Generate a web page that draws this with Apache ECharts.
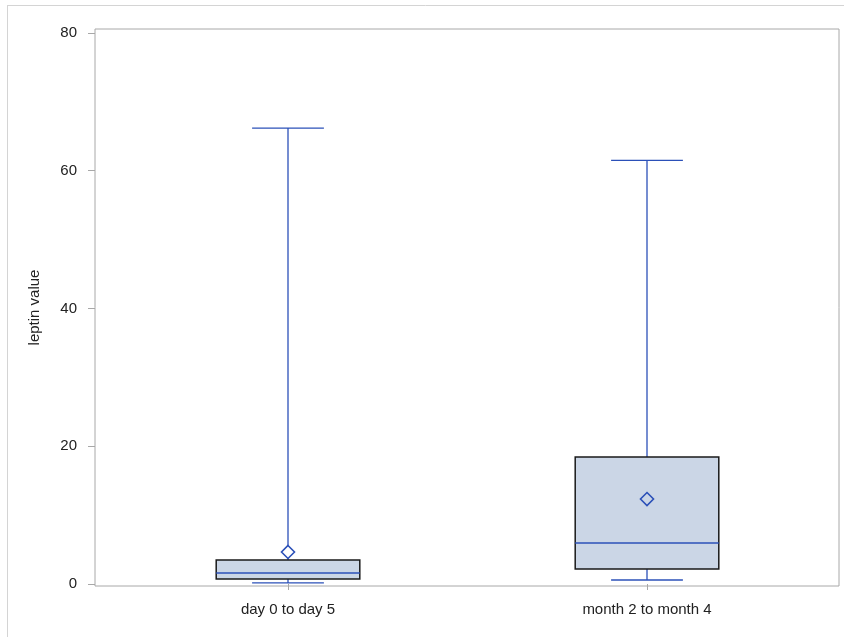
<!DOCTYPE html>
<html>
<head>
<meta charset="utf-8">
<title>leptin value</title>
<script src="https://cdn.jsdelivr.net/npm/echarts@6/dist/echarts.min.js"></script>
<style>
  html, body { margin: 0; padding: 0; background: #ffffff; }
  #chart { width: 844px; height: 637px; }
</style>
</head>
<body>
<div id="chart"></div>
<script>
// Period groups on the category axis
const categories = ['day 0 to day 5', 'month 2 to month 4'];

// Five-number summaries and means per period
const whiskerLow  = [0.15, 0.58];
const q1          = [0.73, 2.18];
const median      = [1.60, 5.95];
const q3          = [3.48, 18.44];
const whiskerHigh = [66.2, 61.5];
const mean        = [4.65, 12.34];

// Value-axis tick labels
const yTicks = [0, 20, 40, 60, 80];

const FONT = '"Liberation Sans", Arial, sans-serif';
const TEXT = '#222222';
const BLUE = '#2b50b8';
const FILL = '#cbd6e6';

const seriesData = categories.map((c, i) => [i, whiskerLow[i], q1[i], median[i], q3[i], whiskerHigh[i], mean[i]]);

function renderBox(params, api) {
  const idx = api.value(0);
  const band = api.size([1, 0])[0];
  const halfBox = band * 0.2;
  const halfCap = band * 0.1;
  const pLow = api.coord([idx, api.value(1)]);
  const pQ1 = api.coord([idx, api.value(2)]);
  const pMed = api.coord([idx, api.value(3)]);
  const pQ3 = api.coord([idx, api.value(4)]);
  const pHigh = api.coord([idx, api.value(5)]);
  const pMean = api.coord([idx, api.value(6)]);
  const x = pQ1[0];
  const lineStyle = { stroke: BLUE, lineWidth: 1.3 };
  const m = 6.5;
  const meanInside = api.value(6) >= api.value(2) && api.value(6) <= api.value(4);
  return {
    type: 'group',
    children: [
      { type: 'line', shape: { x1: x, y1: pHigh[1], x2: x, y2: pQ3[1] }, style: lineStyle },
      { type: 'line', shape: { x1: x, y1: pLow[1], x2: x, y2: pQ1[1] }, style: lineStyle },
      { type: 'line', shape: { x1: x - halfCap, y1: pHigh[1], x2: x + halfCap, y2: pHigh[1] }, style: lineStyle },
      { type: 'line', shape: { x1: x - halfCap, y1: pLow[1], x2: x + halfCap, y2: pLow[1] }, style: lineStyle },
      { type: 'rect', shape: { x: x - halfBox, y: pQ3[1], width: halfBox * 2, height: pQ1[1] - pQ3[1] },
        style: { fill: FILL, stroke: '#1a1a1a', lineWidth: 1.5 } },
      { type: 'line', shape: { x1: x - halfBox, y1: pMed[1], x2: x + halfBox, y2: pMed[1] }, style: lineStyle },
      { type: 'polygon', shape: { points: [[pMean[0], pMean[1] - m], [pMean[0] + m, pMean[1]], [pMean[0], pMean[1] + m], [pMean[0] - m, pMean[1]]] },
        style: { fill: meanInside ? FILL : '#ffffff', stroke: BLUE, lineWidth: 1.6 } }
    ]
  };
}

const chart = echarts.init(document.getElementById('chart'));
chart.setOption({
  animation: false,
  backgroundColor: '#ffffff',
  textStyle: { fontFamily: FONT },
  graphic: [
    { type: 'line', shape: { x1: 7, y1: 5.5, x2: 844, y2: 5.5 }, style: { stroke: '#d4d4d4', lineWidth: 1 }, silent: true },
    { type: 'line', shape: { x1: 7.5, y1: 5, x2: 7.5, y2: 637 }, style: { stroke: '#d4d4d4', lineWidth: 1 }, silent: true }
  ],
  grid: [
    // outer plot frame
    { left: 95, top: 29, width: 744, height: 557, show: true, borderColor: '#a8a8a8', borderWidth: 1, backgroundColor: 'transparent' },
    // data area
    { left: 108.5, top: 29, width: 718, height: 557 }
  ],
  xAxis: [
    { gridIndex: 0, type: 'value', show: false, min: 0, max: 1 },
    {
      gridIndex: 1, type: 'category', data: categories, boundaryGap: true,
      axisLine: { show: false },
      axisTick: { show: true, alignWithLabel: true, length: 6, lineStyle: { color: '#a8a8a8' } },
      axisLabel: { margin: 16, color: TEXT, fontSize: 15, fontFamily: FONT },
      splitLine: { show: false }
    }
  ],
  yAxis: [
    { gridIndex: 0, type: 'value', show: false, min: 0, max: 1 },
    {
      gridIndex: 1, type: 'value', min: -0.29, max: 80.58, offset: 13.5,
      name: 'leptin value', nameLocation: 'middle', nameGap: 53, nameRotate: 90,
      nameTextStyle: { color: TEXT, fontSize: 15, fontFamily: FONT },
      axisLine: { show: false },
      axisTick: { show: true, length: 7, customValues: yTicks, lineStyle: { color: '#a8a8a8' } },
      axisLabel: { margin: 18, color: TEXT, fontSize: 15, fontFamily: FONT, customValues: yTicks },
      splitLine: { show: false }
    }
  ],
  series: [{
    type: 'custom',
    xAxisIndex: 1, yAxisIndex: 1,
    renderItem: renderBox,
    encode: { x: 0, y: [1, 2, 3, 4, 5, 6] },
    data: seriesData,
    clip: false
  }]
});
</script>
</body>
</html>
